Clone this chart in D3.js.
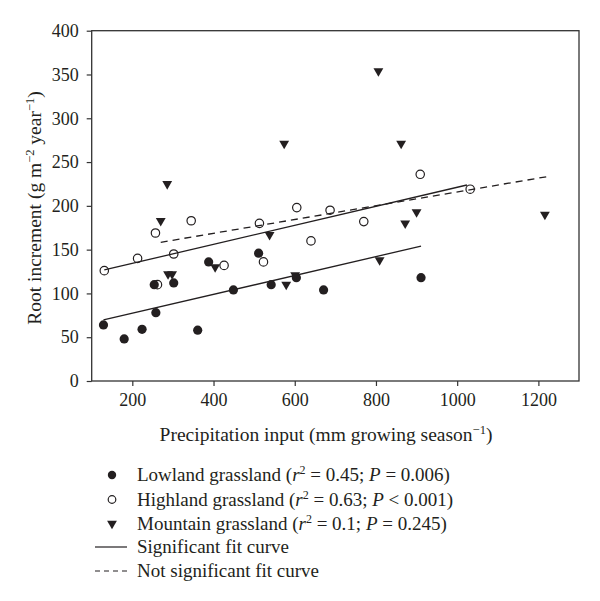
<!DOCTYPE html>
<html><head><meta charset="utf-8">
<script src="https://cdn.jsdelivr.net/npm/d3@7"></script>
<style>
html,body{margin:0;padding:0;background:#fff;}
svg text{font-family:"Liberation Serif","DejaVu Serif",serif;fill:#231f20;}
</style></head>
<body><svg id="c" width="600" height="601"></svg>
<script>
// ---- data ----
const lowlandX = [129, 180, 224, 258, 254, 302, 361, 388, 449, 511, 542, 604, 671, 911];
const lowlandY = [64, 48, 59, 78, 110, 112, 58, 136, 104, 146, 110, 118, 104, 118];
const highlandX = [131, 213, 257, 345, 302, 262, 426, 513, 523, 605, 640, 687, 770, 909, 1032];
const highlandY = [126, 140, 169, 183, 145, 110, 132, 180, 136, 198, 160, 195, 182, 236, 219];
const mountainX = [286, 270, 288, 298, 404, 538, 579, 601, 574, 806, 809, 862, 872, 900, 1216];
const mountainY = [225, 183, 122, 122, 130, 167, 110, 121, 271, 354, 138, 271, 180, 193, 190];
const lowlandFitX = [129, 911];
const lowlandFitY = [69.7, 154];
const highlandFitX = [131, 1024];
const highlandFitY = [126.8, 223.8];
const mountainFitX = [270, 1221];
const mountainFitY = [158.4, 233.3];
const xTicks = [200, 400, 600, 800, 1000, 1200];
const yTicks = [0, 50, 100, 150, 200, 250, 300, 350, 400];

// ---- layout ----
const svg = d3.select("#c");
const x = d3.scaleLinear().domain([100, 1300]).range([91.7, 579]);
const y = d3.scaleLinear().domain([0, 400]).range([381, 30.7]);
const ink = "#231f20";

// frame
svg.append("rect").attr("x", x(100)).attr("y", y(400))
  .attr("width", x(1300) - x(100)).attr("height", y(0) - y(400))
  .attr("fill", "none").attr("stroke", "#333").attr("stroke-width", 1.3);

const xa = svg.append("g").attr("transform", `translate(0,${y(0)})`)
  .call(d3.axisBottom(x).tickValues(xTicks).tickSize(5).tickPadding(7).tickFormat(d3.format("d")));
const ya = svg.append("g").attr("transform", `translate(${x(100)},0)`)
  .call(d3.axisLeft(y).tickValues(yTicks).tickSize(5).tickPadding(8).tickFormat(d3.format("d")));
[xa, ya].forEach(a => {
  a.select(".domain").remove();
  a.selectAll("line").attr("stroke", "#333").attr("stroke-width", 1.2);
  a.selectAll("text").attr("font-size", 18).attr("font-family", "Liberation Serif").attr("fill", ink);
});

// fit lines
const line = d3.line().x(d => x(d[0])).y(d => y(d[1]));
const fits = [
  [lowlandFitX, lowlandFitY, null],
  [highlandFitX, highlandFitY, null],
  [mountainFitX, mountainFitY, "7,5"]
];
fits.forEach(([fx, fy, dash]) => {
  svg.append("path").datum(fx.map((v, i) => [v, fy[i]]))
    .attr("d", line).attr("fill", "none").attr("stroke", ink).attr("stroke-width", 1.3)
    .attr("stroke-dasharray", dash);
});

// points
svg.append("g").selectAll("circle").data(lowlandX.map((v, i) => [v, lowlandY[i]])).join("circle")
  .attr("cx", d => x(d[0])).attr("cy", d => y(d[1])).attr("r", 4.6).attr("fill", ink);
svg.append("g").selectAll("circle").data(highlandX.map((v, i) => [v, highlandY[i]])).join("circle")
  .attr("cx", d => x(d[0])).attr("cy", d => y(d[1])).attr("r", 4.2)
  .attr("fill", "none").attr("stroke", ink).attr("stroke-width", 1.2);
const tri = d3.symbol().type(d3.symbolTriangle).size(42);
svg.append("g").selectAll("path").data(mountainX.map((v, i) => [v, mountainY[i]])).join("path")
  .attr("d", tri).attr("transform", d => `translate(${x(d[0])},${y(d[1])}) rotate(180)`)
  .attr("fill", ink);

// axis titles
const xt = svg.append("text").attr("x", 326).attr("y", 441).attr("text-anchor", "middle").attr("font-size", 19.5);
xt.append("tspan").text("Precipitation input (mm growing season");
xt.append("tspan").attr("baseline-shift", "super").attr("font-size", 12.5).text("−1");
xt.append("tspan").text(")");

const yt = svg.append("text").attr("transform", "translate(41,208) rotate(-90)").attr("text-anchor", "middle").attr("font-size", 19.5);
yt.append("tspan").text("Root increment (g m");
yt.append("tspan").attr("baseline-shift", "super").attr("font-size", 12.5).text("−2");
yt.append("tspan").text(" year");
yt.append("tspan").attr("baseline-shift", "super").attr("font-size", 12.5).text("−1");
yt.append("tspan").text(")");

// legend
const legendLabels = [
  ["Lowland grassland (", "0.45", "0.006", "="],
  ["Highland grassland (", "0.63", "0.001", "<"],
  ["Mountain grassland (", "0.1", "0.245", "="]
];
const lx = 112, tx = 137, rows = [475, 499.5, 523.5, 547, 571];
legendLabels.forEach((l, i) => {
  const cy = rows[i];
  if (i === 0) svg.append("circle").attr("cx", lx).attr("cy", cy).attr("r", 4.2).attr("fill", ink);
  if (i === 1) svg.append("circle").attr("cx", lx).attr("cy", cy).attr("r", 3.8).attr("fill", "none").attr("stroke", ink).attr("stroke-width", 1.2);
  if (i === 2) svg.append("path").attr("d", tri).attr("transform", `translate(${lx},${cy}) rotate(180)`).attr("fill", ink);
  const t = svg.append("text").attr("x", tx).attr("y", cy + 6).attr("font-size", 19);
  t.append("tspan").text(l[0]);
  t.append("tspan").attr("font-style", "italic").text("r");
  t.append("tspan").attr("baseline-shift", "super").attr("font-size", 12).text("2");
  t.append("tspan").text(" = " + l[1] + "; ");
  t.append("tspan").attr("font-style", "italic").text("P");
  t.append("tspan").text(" " + l[3] + " " + l[2] + ")");
});
svg.append("line").attr("x1", 95).attr("x2", 127).attr("y1", rows[3]).attr("y2", rows[3]).attr("stroke", ink).attr("stroke-width", 1.2);
svg.append("line").attr("x1", 95).attr("x2", 127).attr("y1", rows[4]).attr("y2", rows[4]).attr("stroke", ink).attr("stroke-width", 1.2).attr("stroke-dasharray", "5,4");
svg.append("text").attr("x", tx).attr("y", rows[3] + 6).attr("font-size", 19).text("Significant fit curve");
svg.append("text").attr("x", tx).attr("y", rows[4] + 6).attr("font-size", 19).text("Not significant fit curve");
</script></body></html>
